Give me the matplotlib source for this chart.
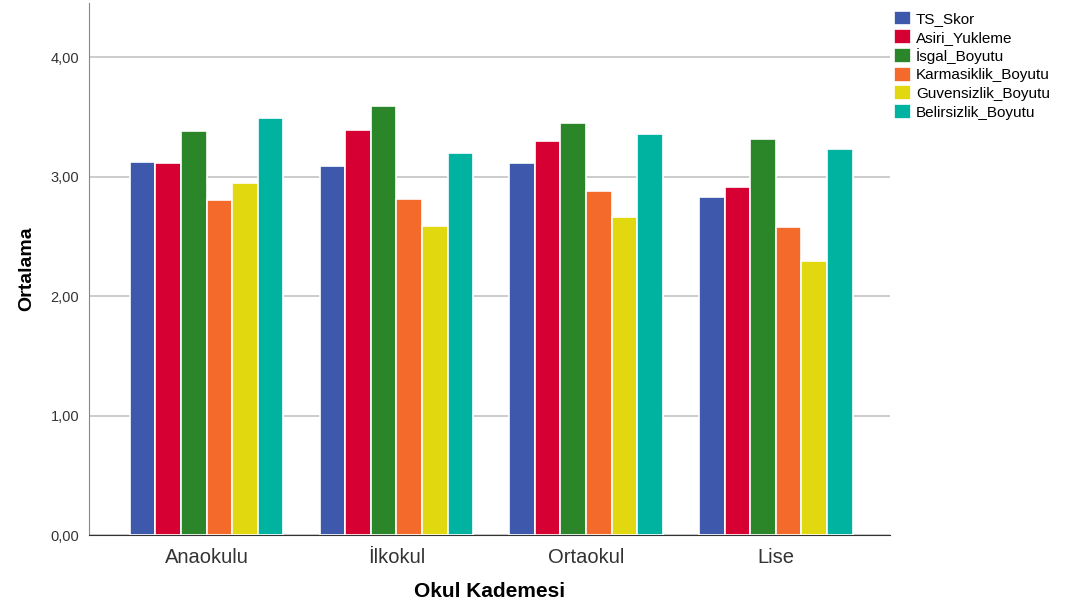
import matplotlib
matplotlib.use('Agg')
import matplotlib.pyplot as plt
import numpy as np

categories = ['Anaokulu', 'İlkokul', 'Ortaokul', 'Lise']
series = ['TS_Skor', 'Asiri_Yukleme', 'İsgal_Boyutu', 'Karmasiklik_Boyutu',
          'Guvensizlik_Boyutu', 'Belirsizlik_Boyutu']
ts_skor = [3.12, 3.09, 3.11, 2.83]
asiri_yukleme = [3.11, 3.39, 3.30, 2.91]
isgal_boyutu = [3.38, 3.59, 3.45, 3.31]
karmasiklik_boyutu = [2.80, 2.81, 2.88, 2.58]
guvensizlik_boyutu = [2.95, 2.59, 2.66, 2.29]
belirsizlik_boyutu = [3.49, 3.20, 3.36, 3.23]
values = [ts_skor, asiri_yukleme, isgal_boyutu, karmasiklik_boyutu,
          guvensizlik_boyutu, belirsizlik_boyutu]
colors = ['#3E58AC', '#D60032', '#2B8629', '#F36A2A', '#E2D810', '#00B2A0']

plt.rcParams['font.family'] = ['Liberation Sans', 'DejaVu Sans']

fig = plt.figure(figsize=(10.85, 6.07), dpi=100)
ax = fig.add_axes([0.082, 0.1186, 0.738, 0.876])

x = np.arange(len(categories))
pitch = 0.135
for i, (name, vals) in enumerate(zip(series, values)):
    off = (i - 2.5) * pitch
    ax.bar(x + off, vals, width=pitch, color=colors[i], edgecolor='white',
           linewidth=1.2, label=name, zorder=3)

ax.set_xlim(-0.62, 3.6)
ax.set_ylim(0, 4.45)
ax.set_yticks([0, 1, 2, 3, 4])
ax.set_yticklabels(['0,00', '1,00', '2,00', '3,00', '4,00'], fontsize=10.5, color='#333333')
ax.set_xticks(x)
ax.set_xticklabels(categories, fontsize=14.5, color='#333333')
ax.tick_params(axis='y', length=0, pad=7)
ax.tick_params(axis='x', length=0, pad=9)
ax.yaxis.grid(True, color='#c8c8c8', linewidth=1.3, zorder=0)
ax.set_axisbelow(True)
for s in ['top', 'right']:
    ax.spines[s].set_visible(False)
ax.spines['left'].set_color('#888888')
ax.spines['bottom'].set_color('#333333')
ax.set_ylabel('Ortalama', fontsize=14, fontweight='bold', labelpad=11)
ax.set_xlabel('Okul Kademesi', fontsize=15, fontweight='bold', labelpad=11)

fig.legend(loc='upper left', bbox_to_anchor=(0.814, 1.0), frameon=False,
           fontsize=11, handlelength=1.1, handleheight=1.1, handletextpad=0.35,
           labelspacing=0.2, borderaxespad=0.3)

fig.savefig('out.png', dpi=100)
